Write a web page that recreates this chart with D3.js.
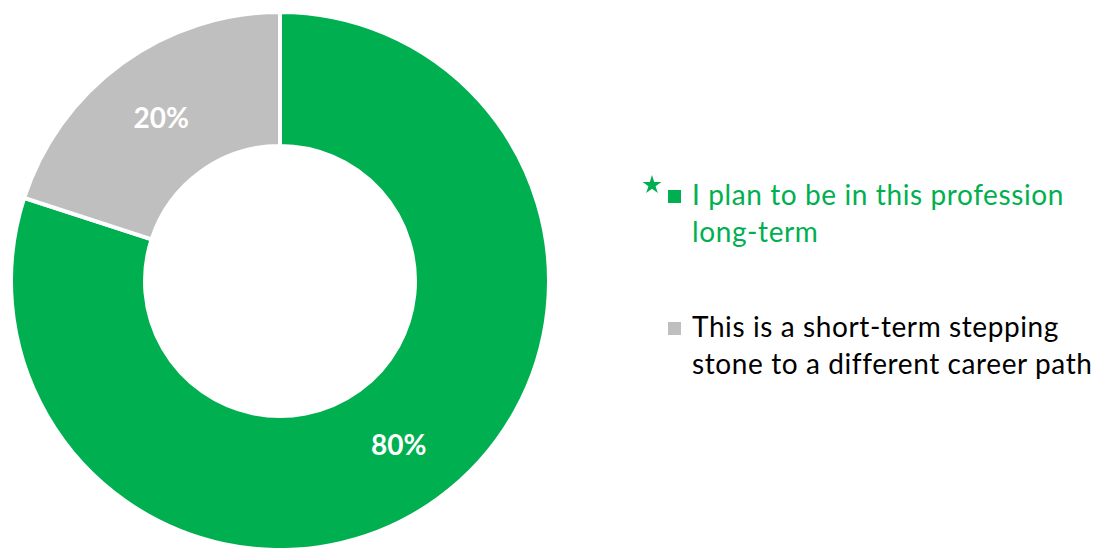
<!DOCTYPE html>
<html>
<head>
<meta charset="utf-8">
<script src="https://cdn.jsdelivr.net/npm/d3@7"></script>
<style>
  html, body { margin: 0; padding: 0; background: #fff; }
  svg { display: block; }
  text { font-family: Lato, "Liberation Sans", sans-serif; }
</style>
</head>
<body>
<svg id="chart" width="1101" height="548"></svg>
<script>
// Survey answers and their shares (percent)
const categories = [
  "I plan to be in this profession long-term",
  "This is a short-term stepping stone to a different career path"
];
const values = [80, 20];
const colors = ["#00B050", "#BFBFBF"];
const legendLines = [
  ["I plan to be in this profession", "long-term"],
  ["This is a short-term stepping", "stone to a different career path"]
];
const legendTextColors = ["#00B050", "#000000"];
const highlighted = [true, false];

const svg = d3.select("#chart");
const cx = 280, cy = 281;
const outerR = 269, innerR = 135;

const data = categories.map((c, i) => ({ category: c, value: values[i], i }));

const pie = d3.pie().value(d => d.value).sort(null);
const arc = d3.arc().innerRadius(innerR).outerRadius(outerR);

const g = svg.append("g").attr("transform", `translate(${cx},${cy})`);
const arcs = pie(data);

g.selectAll("path.slice")
  .data(arcs)
  .join("path")
  .attr("class", "slice")
  .attr("d", arc)
  .attr("fill", d => colors[d.data.i])
  .attr("stroke", "#fff")
  .attr("stroke-width", 4)
  .attr("stroke-linejoin", "miter");

// Percent labels sit at the middle of the ring
g.selectAll("text.pct")
  .data(arcs)
  .join("text")
  .attr("class", "pct")
  .attr("transform", d => `translate(${arc.centroid(d)})`)
  .attr("text-anchor", "middle")
  .attr("dy", "0.36em")
  .attr("fill", "#fff")
  .attr("font-weight", "bold")
  .attr("font-size", 28)
  .text(d => d.data.value + "%");

// Legend
const legend = svg.append("g").attr("transform", "translate(668,0)");
const itemTop = [190, 322];
const lineGap = 36.5;

data.forEach((d, i) => {
  const item = legend.append("g").attr("transform", `translate(0,${itemTop[i]})`);
  item.append("rect")
    .attr("x", 0).attr("y", 0)
    .attr("width", 13).attr("height", 13)
    .attr("fill", colors[i]);
  legendLines[i].forEach((ln, j) => {
    item.append("text")
      .attr("x", 24)
      .attr("y", 15 + j * lineGap)
      .attr("font-size", 28)
      .attr("letter-spacing", 0.6)
      .attr("fill", legendTextColors[i])
      .text(ln);
  });
  if (highlighted[i]) {
    const star = d3.symbol().type(d3.symbolStar).size(110);
    item.append("path")
      .attr("d", star())
      .attr("transform", "translate(-16,-5)")
      .attr("fill", colors[i]);
  }
});
</script>
</body>
</html>
